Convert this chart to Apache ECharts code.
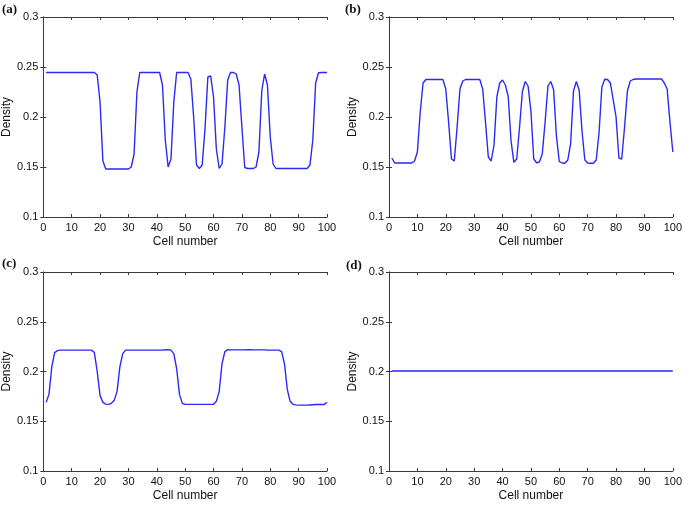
<!DOCTYPE html>
<html>
<head>
<meta charset="utf-8">
<script src="https://cdn.jsdelivr.net/npm/echarts@6/dist/echarts.min.js"></script>
<style>
  html, body { margin: 0; padding: 0; background: #fff; }
  #chart { width: 685px; height: 505px; }
</style>
</head>
<body>
<div id="chart"></div>
<script>
// cell index 1..100
var cells = [];
for (var i = 1; i <= 100; i++) cells.push(i);

var xTicks = [0, 10, 20, 30, 40, 50, 60, 70, 80, 90, 100];
var yTicks = [0.1, 0.15, 0.2, 0.25, 0.3];
var panelLabels = ['(a)', '(b)', '(c)', '(d)'];

var densityA = [
  0.2445, 0.2445, 0.2445, 0.2445, 0.2445, 0.2445, 0.2445, 0.2445, 0.2445, 0.2445,
  0.2445, 0.2445, 0.2445, 0.2445, 0.2445, 0.2445, 0.2445, 0.2445, 0.242, 0.215,
  0.156, 0.148, 0.148, 0.148, 0.148, 0.148, 0.148, 0.148, 0.148, 0.148,
  0.150, 0.163, 0.225, 0.2445, 0.2445, 0.2445, 0.2445, 0.2445, 0.2445, 0.2445,
  0.2445, 0.232, 0.177, 0.150, 0.158, 0.215, 0.2445, 0.2445, 0.2445, 0.2445,
  0.2445, 0.238, 0.200, 0.152, 0.1485, 0.152, 0.188, 0.240, 0.241, 0.220,
  0.168, 0.1485, 0.153, 0.190, 0.237, 0.2445, 0.2445, 0.243, 0.232, 0.190,
  0.1495, 0.1485, 0.1485, 0.1485, 0.150, 0.165, 0.226, 0.243, 0.232, 0.180,
  0.153, 0.1485, 0.1485, 0.1485, 0.1485, 0.1485, 0.1485, 0.1485, 0.1485, 0.1485,
  0.1485, 0.1485, 0.1485, 0.152, 0.177, 0.234, 0.2443, 0.2445, 0.2445, 0.2445
];

var densityB = [
  0.159, 0.154, 0.154, 0.154, 0.154, 0.154, 0.154, 0.154, 0.156, 0.165,
  0.205, 0.234, 0.2375, 0.2375, 0.2375, 0.2375, 0.2375, 0.2375, 0.2375, 0.228,
  0.195, 0.158, 0.156, 0.190, 0.228, 0.236, 0.2375, 0.2375, 0.2375, 0.2375,
  0.2375, 0.2375, 0.228, 0.195, 0.160, 0.156, 0.172, 0.220, 0.234, 0.237,
  0.232, 0.2205, 0.176, 0.1547, 0.158, 0.190, 0.2255, 0.2355, 0.231, 0.206,
  0.158, 0.1543, 0.155, 0.163, 0.195, 0.231, 0.2355, 0.2272, 0.1807, 0.1555,
  0.154, 0.1537, 0.157, 0.1737, 0.226, 0.2355, 0.227, 0.186, 0.157, 0.154,
  0.1537, 0.1537, 0.157, 0.184, 0.230, 0.2378, 0.2375, 0.234, 0.217, 0.200,
  0.159, 0.158, 0.190, 0.226, 0.236, 0.2375, 0.238, 0.238, 0.238, 0.238,
  0.238, 0.238, 0.238, 0.238, 0.238, 0.238, 0.234, 0.228, 0.195, 0.165
];

var densityC = [
  0.169, 0.177, 0.205, 0.219, 0.221, 0.2215, 0.2215, 0.2215, 0.2215, 0.2215,
  0.2215, 0.2215, 0.2215, 0.2215, 0.2215, 0.2215, 0.2215, 0.219, 0.200, 0.176,
  0.169, 0.1672, 0.167, 0.168, 0.171, 0.180, 0.205, 0.218, 0.2215, 0.2215,
  0.2215, 0.2215, 0.2215, 0.2215, 0.2215, 0.2215, 0.2215, 0.2215, 0.2215, 0.2215,
  0.2215, 0.2215, 0.2218, 0.2218, 0.2215, 0.218, 0.203, 0.177, 0.168, 0.167,
  0.167, 0.167, 0.167, 0.167, 0.167, 0.167, 0.167, 0.167, 0.167, 0.167,
  0.170, 0.180, 0.208, 0.220, 0.222, 0.2217, 0.2217, 0.2217, 0.2217, 0.2217,
  0.2217, 0.2219, 0.2219, 0.2217, 0.2217, 0.2217, 0.2217, 0.2217, 0.2215, 0.2215,
  0.2215, 0.2215, 0.2215, 0.220, 0.208, 0.182, 0.170, 0.167, 0.1665, 0.1662,
  0.1662, 0.1662, 0.1662, 0.1664, 0.1666, 0.1668, 0.1668, 0.1668, 0.1668, 0.169
];

var densityD = [
  0.2005, 0.2005, 0.2005, 0.2005, 0.2005, 0.2005, 0.2005, 0.2005, 0.2005, 0.2005,
  0.2005, 0.2005, 0.2005, 0.2005, 0.2005, 0.2005, 0.2005, 0.2005, 0.2005, 0.2005,
  0.2005, 0.2005, 0.2005, 0.2005, 0.2005, 0.2005, 0.2005, 0.2005, 0.2005, 0.2005,
  0.2005, 0.2005, 0.2005, 0.2005, 0.2005, 0.2005, 0.2005, 0.2005, 0.2005, 0.2005,
  0.2005, 0.2005, 0.2005, 0.2005, 0.2005, 0.2005, 0.2005, 0.2005, 0.2005, 0.2005,
  0.2005, 0.2005, 0.2005, 0.2005, 0.2005, 0.2005, 0.2005, 0.2005, 0.2005, 0.2005,
  0.2005, 0.2005, 0.2005, 0.2005, 0.2005, 0.2005, 0.2005, 0.2005, 0.2005, 0.2005,
  0.2005, 0.2005, 0.2005, 0.2005, 0.2005, 0.2005, 0.2005, 0.2005, 0.2005, 0.2005,
  0.2005, 0.2005, 0.2005, 0.2005, 0.2005, 0.2005, 0.2005, 0.2005, 0.2005, 0.2005,
  0.2005, 0.2005, 0.2005, 0.2005, 0.2005, 0.2005, 0.2005, 0.2005, 0.2005, 0.2005
];

var panels = [densityA, densityB, densityC, densityD];

var grids = [
  { left: 41, top: 17, width: 286, height: 200 },
  { left: 389, top: 17, width: 285, height: 200 },
  { left: 41, top: 272, width: 286, height: 199 },
  { left: 389, top: 272, width: 285, height: 199 }
];
var labelPos = [[2, 3], [345, 3], [2, 257], [346, 259]];

var font = 'Liberation Sans, Arial, sans-serif';
var frame = '#3a3a3a';

var xAxes = [], yAxes = [], series = [], titles = [];

grids.forEach(function (g, k) {
  // bottom + top x axes, left + right y axes (MATLAB-style box with inner ticks)
  ['bottom', 'top'].forEach(function (pos) {
    xAxes.push({
      type: 'value', gridIndex: k, position: pos,
      min: xTicks[0], max: xTicks[xTicks.length - 1], interval: 10,
      name: pos === 'bottom' ? 'Cell number' : '',
      nameLocation: 'middle', nameGap: 19,
      nameTextStyle: { fontFamily: font, fontSize: 12, color: '#111' },
      axisLine: { show: true, lineStyle: { color: frame, width: 1 } },
      axisTick: { show: true, inside: true, length: 3, lineStyle: { color: frame } },
      axisLabel: { show: pos === 'bottom', margin: 5, fontFamily: font, fontSize: 11, color: '#111' },
      splitLine: { show: false }
    });
  });
  ['left', 'right'].forEach(function (pos) {
    yAxes.push({
      type: 'value', gridIndex: k, position: pos,
      min: yTicks[0], max: yTicks[yTicks.length - 1], interval: 0.05,
      name: pos === 'left' ? 'Density' : '',
      nameLocation: 'middle', nameGap: 28,
      nameTextStyle: { fontFamily: font, fontSize: 12, color: '#111' },
      axisLine: { show: true, lineStyle: { color: frame, width: 1 } },
      axisTick: { show: true, inside: true, length: 3, lineStyle: { color: frame } },
      axisLabel: { show: pos === 'left', margin: 5, fontFamily: font, fontSize: 11, color: '#111' },
      splitLine: { show: false }
    });
  });

  series.push({
    type: 'line',
    xAxisIndex: k * 2,
    yAxisIndex: k * 2,
    data: cells.map(function (c, j) { return [c, panels[k][j]]; }),
    showSymbol: false,
    z: 5,
    lineStyle: { color: '#2a2af5', width: 1.4 },
    animation: false
  });

  titles.push({
    text: panelLabels[k],
    left: labelPos[k][0], top: labelPos[k][1],
    padding: 0,
    textStyle: { fontFamily: 'Liberation Serif, Times New Roman, serif', fontWeight: 'bold', fontSize: 13, color: '#111' }
  });
});

var chart = echarts.init(document.getElementById('chart'));
chart.setOption({
  animation: false,
  backgroundColor: '#fff',
  title: titles,
  grid: grids,
  xAxis: xAxes,
  yAxis: yAxes,
  series: series
});
</script>
</body>
</html>
